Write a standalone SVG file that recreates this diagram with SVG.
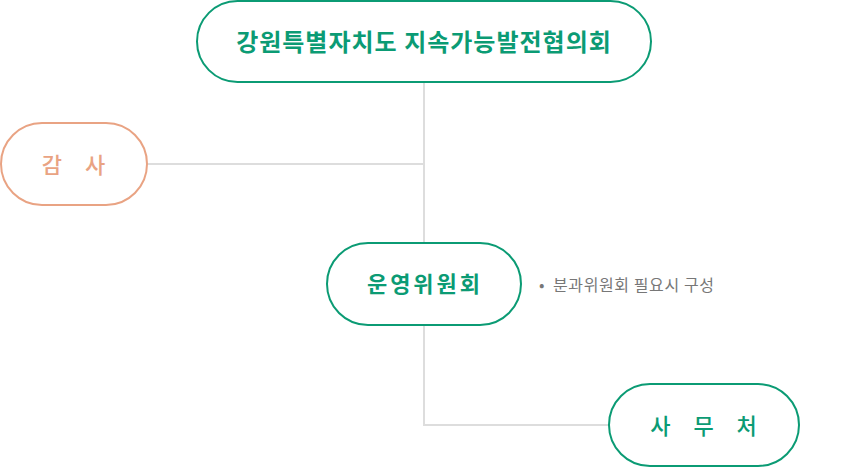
<svg xmlns="http://www.w3.org/2000/svg" width="848" height="467" viewBox="0 0 848 467">
<style>
.g{fill:#fff;stroke:#0b9b74;stroke-width:2}
.o{fill:#fff;stroke:#e9a383;stroke-width:2}
.t{font-family:"Noto Sans CJK KR","Noto Sans",sans-serif;text-anchor:middle}
.tg{fill:#0b9b74;font-weight:700}
.tm{fill:#0b9b74;font-weight:500}
.to{fill:#e9a383;font-weight:500}
.c{fill:none;stroke:#dddddd;stroke-width:2}
.n{font-family:"Noto Sans CJK KR","Noto Sans",sans-serif;fill:#777;font-size:16px}
</style>
<rect width="848" height="467" fill="#fff"/>
<g id="connectors">
<path class="c" d="M424 82V243M147 164H424M424 325V425H609"/>
</g>
<g id="council">
<rect class="g" x="197" y="1" width="454" height="81" rx="40.5"/>
<text class="t tg" x="424" y="51" font-size="24" letter-spacing="1">강원특별자치도 지속가능발전협의회</text>
</g>
<g id="audit">
<rect class="o" x="1" y="123" width="146" height="82" rx="41"/>
<text class="t to" x="78" y="173" font-size="22" letter-spacing="9">감 사</text>
</g>
<g id="steering">
<rect class="g" x="327" y="243" width="194" height="82" rx="41"/>
<text class="t tg" x="425" y="292" font-size="22" letter-spacing="3">운영위원회</text>
<text class="n" y="291"><tspan x="539">•</tspan><tspan x="553" letter-spacing="0.6">분과위원회 필요시 구성</tspan></text>
</g>
<g id="secretariat">
<rect class="g" x="609" y="384" width="190" height="82" rx="41"/>
<text class="t tm" x="708" y="434" font-size="22" letter-spacing="9">사 무 처</text>
</g>
</svg>
